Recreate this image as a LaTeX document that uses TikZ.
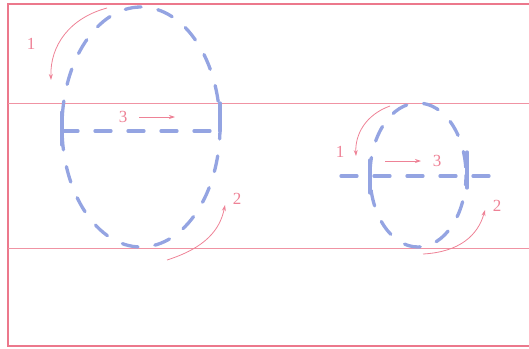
\documentclass[tikz,border=0pt]{standalone}
\usepackage{fontspec}
\setmainfont{Liberation Serif}
\usetikzlibrary{arrows.meta}
\definecolor{pinkline}{RGB}{236,120,140}
\definecolor{pinktext}{RGB}{238,130,150}
\definecolor{bluedash}{RGB}{148,164,226}
\begin{document}
\begin{tikzpicture}[x=1pt,y=-1pt,
  frame/.style={draw=pinkline,line width=1.1pt},
  guide/.style={draw=pinkline!80,line width=0.7pt},
  stroke/.style={draw=bluedash,line width=3.3pt,dash pattern=on 16pt off 17pt,line cap=round},
  tick/.style={draw=bluedash,line width=3.3pt,line cap=round},
  hint/.style={draw=pinktext,line width=0.8pt,-{Stealth[length=6pt,width=4pt]}},
  num/.style={text=pinktext,font=\fontsize{17}{17}\selectfont,inner sep=0pt}]
\useasboundingbox (0,0) rectangle (529,348);
% frame and guides
\draw[frame] (540,4) -- (8,4) -- (8,346) -- (540,346);
\draw[guide] (8,103) -- (529,103);
\draw[guide] (8,248) -- (529,248);
% big letter
\draw[stroke,dash phase=4pt] (141,127) ellipse [x radius=79, y radius=120];
\draw[stroke] (62,131) -- (220,131);
\draw[tick] (62,112) -- (62,145);
\draw[tick] (220,103) -- (220,131);
% small letter
\draw[stroke,dash phase=6pt] (418,175) ellipse [x radius=48, y radius=72];
\draw[stroke] (341,176) -- (497,176);
\draw[tick] (370,160) -- (370,193);
\draw[tick] (467,152) -- (467,188);
% hints big
\coordinate (b1s) at (107,8); \coordinate (b1e) at (51,80);
\node[num] (b1) at (31,44) {1};
\draw[hint] (b1s) .. controls (70,18) and (50,45) .. (b1e);
\coordinate (b3s) at (139,117); \coordinate (b3e) at (175,117);
\node[num] (b3) at (123,117) {3};
\draw[hint] (b3s) -- (b3e);
\coordinate (b2s) at (167,260); \coordinate (b2e) at (225,205);
\node[num] (b2) at (237,199) {2};
\draw[hint] (b2s) .. controls (205,248) and (220,230) .. (b2e);
% hints small
\coordinate (s1s) at (390,106); \coordinate (s1e) at (356,156);
\node[num] (s1) at (340,152) {1};
\draw[hint] (s1s) .. controls (365,115) and (355,135) .. (s1e);
\coordinate (s3s) at (385,161); \coordinate (s3e) at (421,161);
\node[num] (s3) at (437,161) {3};
\draw[hint] (s3s) -- (s3e);
\coordinate (s2s) at (423,254); \coordinate (s2e) at (485,210);
\node[num] (s2) at (497,206) {2};
\draw[hint] (s2s) .. controls (460,252) and (478,235) .. (s2e);
\end{tikzpicture}
\end{document}
